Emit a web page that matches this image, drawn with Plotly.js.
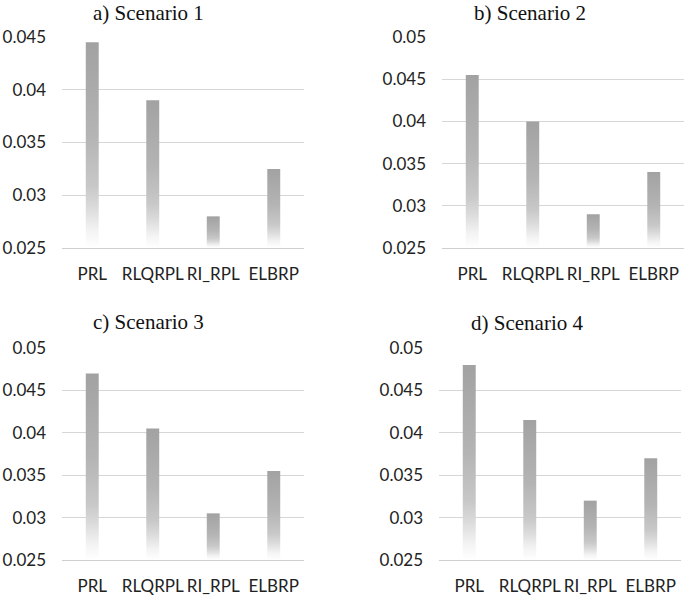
<!DOCTYPE html>
<html>
<head>
<meta charset="utf-8">
<script src="https://cdn.plot.ly/plotly-3.0.1.min.js"></script>
<style>html,body{margin:0;padding:0;background:#fff;}#chart{width:685px;height:595px;}</style>
</head>
<body>
<div id="chart"></div>
<script>
const categories = ['PRL', 'RLQRPL', 'RI_RPL', 'ELBRP'];
const scenario1 = [0.0445, 0.039, 0.028, 0.0325];
const scenario2 = [0.0455, 0.040, 0.029, 0.034];
const scenario3 = [0.047, 0.0405, 0.0305, 0.0355];
const scenario4 = [0.048, 0.0415, 0.032, 0.037];
const panelTitles = ['a) Scenario 1', 'b) Scenario 2', 'c) Scenario 3', 'd) Scenario 4'];
const yTicksA = [0.025, 0.03, 0.035, 0.04, 0.045];
const yTickTextA = ['0.025', '0.03', '0.035', '0.04', '0.045'];
const yTicksB = [0.025, 0.03, 0.035, 0.04, 0.045, 0.05];
const yTickTextB = ['0.025', '0.03', '0.035', '0.04', '0.045', '0.05'];

const series = [scenario1, scenario2, scenario3, scenario4];
const yTicks = [yTicksA, yTicksB, yTicksB, yTicksB];
const yTickText = [yTickTextA, yTickTextB, yTickTextB, yTickTextB];

const W = 685, H = 595;
// plot areas in pixels [x0, x1, yTop, yBottom]
const boxes = [
  [62, 304, 37, 248],
  [442, 684, 37, 248],
  [62, 304, 348, 560],
  [439, 681, 348, 560]
];
// title positions: [center x, top y] in pixels
const titlePos = [[148, 0], [530, 0], [148, 309], [527, 310]];

const halfWidth = 0.107;
const gradient = [
  [0, '#ffffff'], [0.08, '#f4f4f4'], [0.2, '#dadada'], [0.3, '#c8c8c8'],
  [0.55, '#b4b4b4'], [1, '#a2a2a2']
];
const tickFont = {family: 'Lato, sans-serif', size: 17, color: '#222222'};

const traces = [];
const layout = {
  width: W, height: H,
  margin: {l: 0, r: 0, t: 0, b: 0},
  paper_bgcolor: '#ffffff', plot_bgcolor: '#ffffff',
  showlegend: false,
  font: tickFont,
  annotations: []
};

series.forEach((vals, p) => {
  const suffix = p === 0 ? '' : String(p + 1);
  const ticks = yTicks[p];
  const base = ticks[0];
  const top = ticks[ticks.length - 1];
  vals.forEach((v, i) => {
    traces.push({
      type: 'scatter', mode: 'lines',
      x: [i - halfWidth, i + halfWidth, i + halfWidth, i - halfWidth, i - halfWidth],
      y: [base, base, v, v, base],
      fill: 'toself',
      fillgradient: {type: 'vertical', colorscale: gradient},
      line: {width: 0, color: 'rgba(0,0,0,0)'},
      xaxis: 'x' + suffix, yaxis: 'y' + suffix,
      hoverinfo: 'skip'
    });
  });
  const b = boxes[p];
  layout['xaxis' + suffix] = {
    domain: [b[0] / W, b[1] / W],
    anchor: 'y' + suffix,
    range: [-0.5, 3.5],
    tickmode: 'array',
    tickvals: categories.map((c, i) => i),
    ticktext: categories,
    showgrid: false, zeroline: false,
    showline: true, linecolor: '#cfcfcf', linewidth: 1,
    ticks: '', ticklabelstandoff: 11,
    tickfont: tickFont,
    fixedrange: true
  };
  layout['yaxis' + suffix] = {
    domain: [1 - b[3] / H, 1 - b[2] / H],
    anchor: 'x' + suffix,
    range: [base, top],
    tickmode: 'array',
    tickvals: ticks,
    ticktext: yTickText[p],
    showgrid: true, gridcolor: '#d6d6d6', gridwidth: 1,
    zeroline: false, showline: false,
    ticks: '', ticklabelstandoff: 15,
    tickfont: tickFont,
    fixedrange: true
  };
  layout.annotations.push({
    text: panelTitles[p],
    xref: 'paper', yref: 'paper',
    x: titlePos[p][0] / W, y: 1 - titlePos[p][1] / H,
    xanchor: 'center', yanchor: 'top',
    borderpad: 0,
    showarrow: false,
    font: {family: '"Liberation Serif", "Times New Roman", serif', size: 21, color: '#111111'}
  });
});

Plotly.newPlot('chart', traces, layout, {displayModeBar: false, staticPlot: true});
</script>
</body>
</html>
